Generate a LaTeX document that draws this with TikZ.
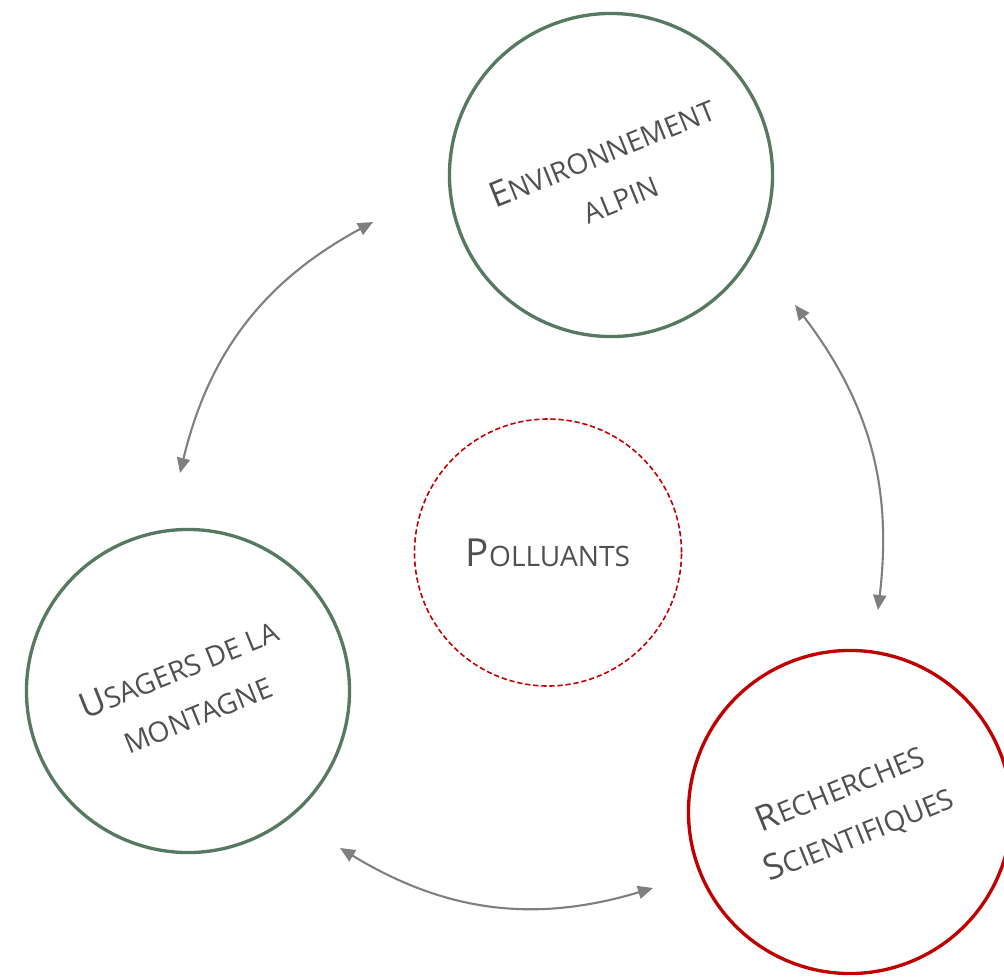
\documentclass[tikz,border=0pt]{standalone}
\usepackage{fontspec}
\setmainfont{Open Sans}
\usetikzlibrary{arrows.meta,positioning}

\definecolor{alpgreen}{RGB}{88,121,97}
\definecolor{alpred}{RGB}{192,0,0}
\definecolor{txtgray}{RGB}{80,80,80}
\definecolor{arrgray}{RGB}{127,127,127}

% fake small caps: big first letter, smaller capitals after it
\newcommand{\scword}[3][20]{{\fontsize{#1}{28}\selectfont #2}#3}

\tikzset{
  zone/.style={circle,draw=alpgreen,line width=1.9pt,minimum size=6.46cm,
    align=center,text=txtgray,font=\fontsize{16}{28}\selectfont,rotate=22},
  labo/.style={zone,draw=alpred},
  polbox/.style={circle,draw=alpred,line width=0.9pt,dash pattern=on 3pt off 1.6pt,
    minimum size=5.34cm,text=txtgray,font=\fontsize{16}{28}\selectfont},
  link/.style={draw=arrgray,line width=1.2pt,
    {Triangle[length=0.3cm,width=0.26cm]}-{Triangle[length=0.3cm,width=0.26cm]}}
}

\begin{document}
\begin{tikzpicture}
\useasboundingbox (0,0) rectangle (20.08,-19.54);

\node[zone] (env) at (12.22,-3.50) {\scword{E}{NVIRONNEMENT}\\ALPIN};
\node[zone] (usa) at (3.76,-13.82) {\scword{U}{SAGERS DE LA}\\MONTAGNE};
\node[labo] (rech) at (17.00,-16.24) {\scword{R}{ECHERCHES}\\\scword{S}{CIENTIFIQUES}};
\node[polbox] (pol) at (10.96,-11.05) {\scword[22]{P}{OLLUANTS}};

% free ends of the arrows
\coordinate (usa-a) at (3.60,-9.46);
\coordinate (env-a) at (7.46,-4.44);
\coordinate (env-b) at (15.90,-6.10);
\coordinate (rech-b) at (17.56,-12.20);
\coordinate (rech-c) at (13.06,-17.76);
\coordinate (usa-c) at (6.80,-16.96);

\draw[link] (usa-a) to[bend left=24] (env-a);
\draw[link] (env-b) to[bend left=22] (rech-b);
\draw[link] (rech-c) to[bend left=24] (usa-c);
\end{tikzpicture}
\end{document}
